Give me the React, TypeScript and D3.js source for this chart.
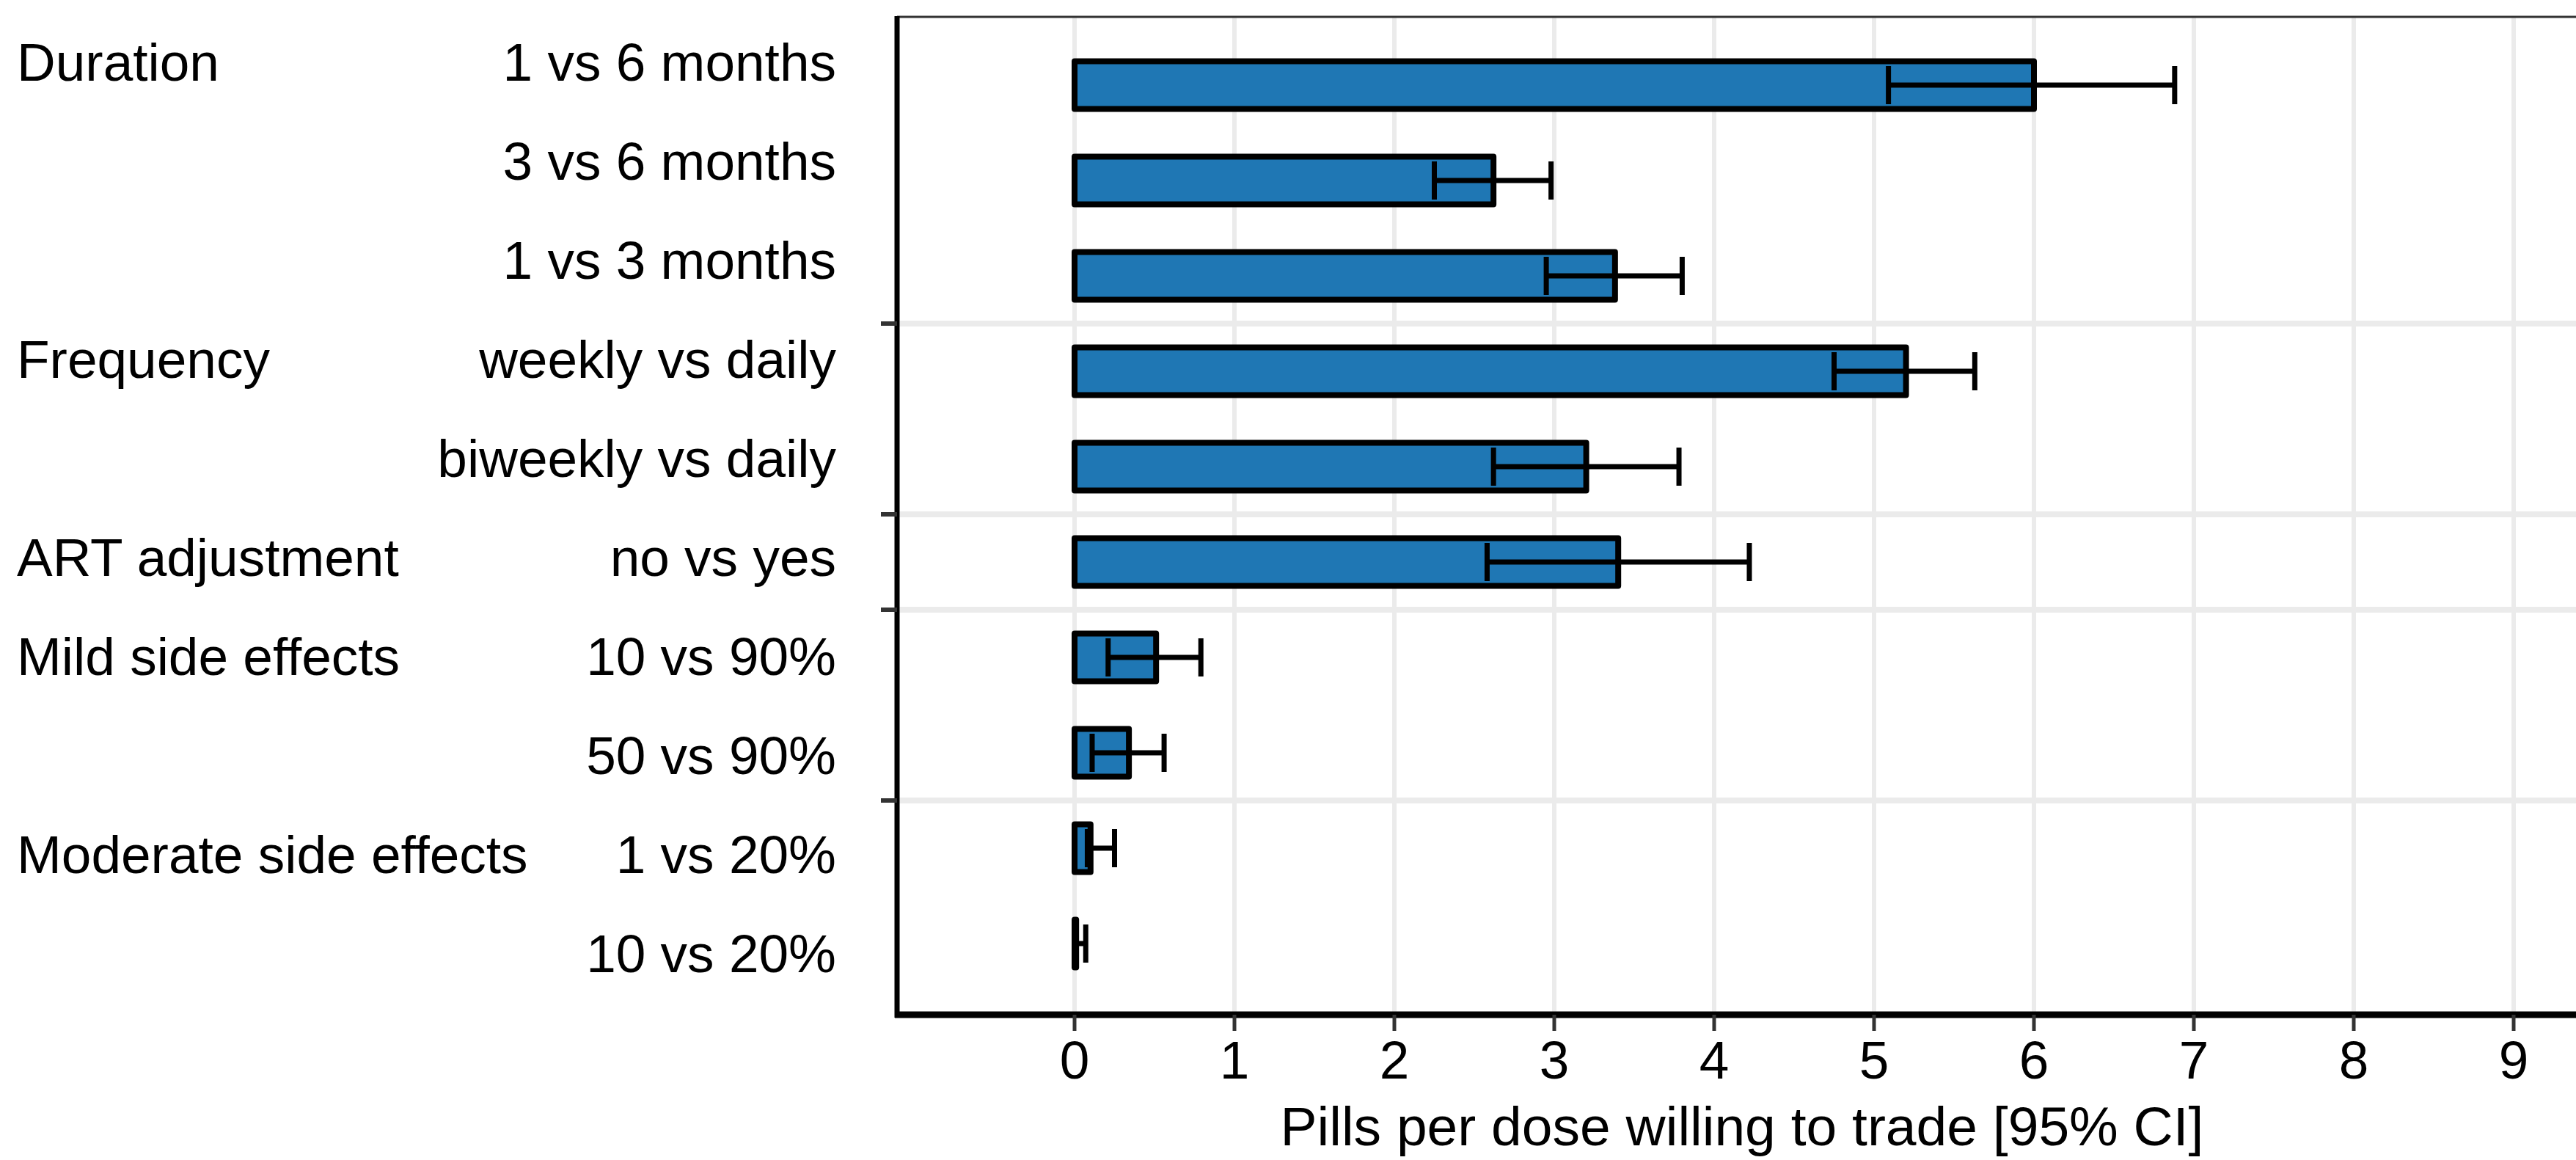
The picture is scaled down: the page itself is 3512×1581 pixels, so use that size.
import React from "react";
import * as d3 from "d3";

const levels = [
  "1 vs 6 months",
  "3 vs 6 months",
  "1 vs 3 months",
  "weekly vs daily",
  "biweekly vs daily",
  "no vs yes",
  "10 vs 90%",
  "50 vs 90%",
  "1 vs 20%",
  "10 vs 20%",
];
const attributes = [
  "Duration",
  "Duration",
  "Duration",
  "Frequency",
  "Frequency",
  "ART adjustment",
  "Mild side effects",
  "Mild side effects",
  "Moderate side effects",
  "Moderate side effects",
];
const estimates = [6.0, 2.62, 3.38, 5.2, 3.2, 3.4, 0.51, 0.34, 0.1, 0.01];
const ciLow = [5.09, 2.25, 2.95, 4.75, 2.62, 2.58, 0.21, 0.11, 0.08, 0.0];
const ciHigh = [6.88, 2.98, 3.8, 5.63, 3.78, 4.22, 0.79, 0.56, 0.25, 0.07];
const xTicks = [0, 1, 2, 3, 4, 5, 6, 7, 8, 9];
const xTitle = "Pills per dose willing to trade [95% CI]";

const W = 3512;
const H = 1581;
const FONT = "Liberation Sans, Arial, Helvetica, sans-serif";

export default function App() {
  const panelLeft = 1223;
  const panelRight = 3545;
  const panelTop = 23;
  const panelBottom = 1383;

  const x = d3.scaleLinear().domain([0, 9]).range([1465, 3427]);
  const y = d3.scaleLinear().domain([0, levels.length - 1]).range([116, 1286]);
  const rowStep = y(1) - y(0);
  const labelY = d3.scaleLinear().domain([0, levels.length - 1]).range([110, 1325]);

  const barH = rowStep * 0.5;
  const capH = rowStep * 0.4;

  const seps: number[] = [];
  for (let i = 1; i < attributes.length; i++) {
    if (attributes[i] !== attributes[i - 1]) seps.push(i - 0.5);
  }
  const firstRows = attributes
    .map((a, i) => (i === 0 || attributes[i - 1] !== a ? i : -1))
    .filter((i) => i >= 0);

  return (
    <svg
      width={W}
      height={H}
      style={{ position: "absolute", left: 0, top: 0, display: "block", background: "#fff" }}
      fontFamily={FONT}
    >
      <rect x={0} y={0} width={W} height={H} fill="#ffffff" />
      {xTicks.map((t) => (
        <line
          key={"vg" + t}
          x1={x(t)}
          x2={x(t)}
          y1={panelTop}
          y2={panelBottom}
          stroke="#ebebeb"
          strokeWidth={6}
        />
      ))}
      {seps.map((s) => (
        <line
          key={"hg" + s}
          x1={panelLeft}
          x2={panelRight}
          y1={y(s)}
          y2={y(s)}
          stroke="#ebebeb"
          strokeWidth={8}
        />
      ))}
      {estimates.map((v, i) => (
        <rect
          key={"bar" + i}
          x={x(0)}
          y={y(i) - barH / 2}
          width={Math.max(0, x(v) - x(0))}
          height={barH}
          fill="#1f77b4"
          stroke="#000"
          strokeWidth={8}
          strokeLinejoin="round"
        />
      ))}
      {estimates.map((v, i) => (
        <g key={"err" + i} stroke="#000" strokeWidth={7}>
          <line x1={x(ciLow[i])} x2={x(ciHigh[i])} y1={y(i)} y2={y(i)} />
          <line x1={x(ciLow[i])} x2={x(ciLow[i])} y1={y(i) - capH / 2} y2={y(i) + capH / 2} />
          <line x1={x(ciHigh[i])} x2={x(ciHigh[i])} y1={y(i) - capH / 2} y2={y(i) + capH / 2} />
        </g>
      ))}
      <line x1={panelLeft} x2={panelRight} y1={panelTop} y2={panelTop} stroke="#333" strokeWidth={3} />
      <line x1={panelLeft} x2={panelLeft} y1={panelTop - 1} y2={panelBottom + 4} stroke="#000" strokeWidth={7} />
      {seps.map((s) => (
        <line
          key={"lt" + s}
          x1={panelLeft - 22}
          x2={panelLeft}
          y1={y(s)}
          y2={y(s)}
          stroke="#333"
          strokeWidth={6}
        />
      ))}
      <line x1={panelLeft - 3} x2={panelRight} y1={panelBottom} y2={panelBottom} stroke="#000" strokeWidth={9} />
      {xTicks.map((t) => (
        <g key={"xt" + t}>
          <line x1={x(t)} x2={x(t)} y1={panelBottom} y2={panelBottom + 22} stroke="#333" strokeWidth={5} />
          <text x={x(t)} y={1470} textAnchor="middle" fontSize={73} fill="#000">
            {t}
          </text>
        </g>
      ))}
      <text x={2375} y={1561} textAnchor="middle" fontSize={75} fill="#000">
        {xTitle}
      </text>
      {levels.map((l, i) => (
        <text key={"lv" + i} x={1140} y={labelY(i)} textAnchor="end" fontSize={73} fill="#000">
          {l}
        </text>
      ))}
      {firstRows.map((i) => (
        <text key={"at" + i} x={23} y={labelY(i)} textAnchor="start" fontSize={73} fill="#000">
          {attributes[i]}
        </text>
      ))}
    </svg>
  );
}
